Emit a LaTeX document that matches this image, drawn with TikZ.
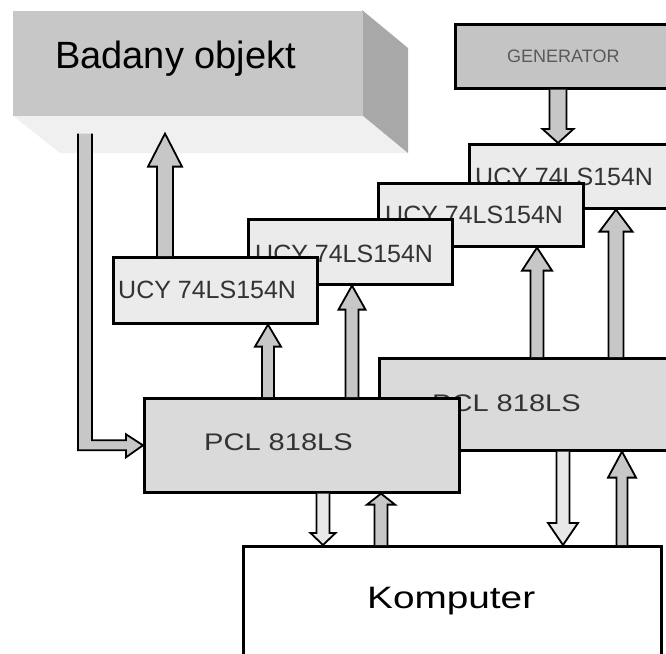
\documentclass[tikz,border=0pt]{standalone}
\usepackage{fontspec}
\setmainfont{Liberation Sans}
\usetikzlibrary{calc}
\definecolor{upgray}{gray}{0.78}
\definecolor{downgray}{gray}{0.91}
\definecolor{ucygray}{gray}{0.92}
\definecolor{pclgray}{gray}{0.855}
\definecolor{gengray}{gray}{0.77}
\definecolor{frontgray}{gray}{0.78}
\definecolor{sidegray}{gray}{0.66}
\definecolor{footgray}{gray}{0.94}
\definecolor{txtgray}{gray}{0.2}
\tikzset{
  box/.style    ={draw,line width=2.6pt,inner sep=0pt,anchor=north west},
  ucybox/.style ={box,fill=ucygray},
  pclbox/.style ={box,fill=pclgray},
  lbl/.style    ={anchor=base west,inner sep=0pt,text=txtgray},
  ucytxt/.style ={lbl,font=\fontsize{25}{28}\selectfont},
  pcltxt/.style ={lbl,font=\fontsize{24}{28}\selectfont},
  fat/.style    ={line width=1.8pt,line join=miter},
}
% vertical block arrow: fill, from, to, half shaft, half head, head length
\newcommand{\blockarrow}[6]{%
  \filldraw[fat,fill=#1] let \p1=(#2),\p2=(#3),\n1={ifthenelse(\y2>\y1,1,-1)} in
    (\x1-#4pt,\y1) -- (\x1-#4pt,\y2-\n1*#6pt) -- (\x1-#5pt,\y2-\n1*#6pt) -- (\x1,\y2)
    -- (\x1+#5pt,\y2-\n1*#6pt) -- (\x1+#4pt,\y2-\n1*#6pt) -- (\x1+#4pt,\y1);}

\begin{document}
\begin{tikzpicture}[x=1pt,y=-1pt]
  \useasboundingbox (0,0) rectangle (666,653);

  % badany objekt, drawn as a block
  \fill[footgray] (12,115) -- (362,115) -- (408,153) -- (60,153) -- cycle;
  \fill[sidegray] (362,10) -- (408,48) -- (408,153) -- (362,115) -- cycle;
  \node[box,draw=none,fill=frontgray,minimum width=350pt,minimum height=105pt] (bad) at (12,10) {};
  \node[lbl,text=black,font=\fontsize{38}{42}\selectfont] (badtxt) at (55,68) {Badany objekt};
  \coordinate (badfoot) at ([yshift=-16pt]bad.south);

  % generator
  \node[box,fill=gengray,minimum width=240pt,minimum height=64pt] (gen) at (454,23) {};
  \node[lbl,text=gray!70!black,font=\fontsize{18}{20}\selectfont] (gentxt) at (507,62) {GENERATOR};

  % ucy cards, back to front
  \node[ucybox,minimum width=230pt,minimum height=64pt] (ucyD) at (468,143) {};
  \node[ucytxt] (ucyDtxt) at (475,185) {UCY 74LS154N};
  \node[ucybox,minimum width=205pt,minimum height=63pt] (ucyC) at (377,182) {};
  \node[ucytxt] (ucyCtxt) at (385,223) {UCY 74LS154N};
  \node[ucybox,minimum width=204pt,minimum height=65pt] (ucyB) at (247,218) {};
  \node[ucytxt] (ucyBtxt) at (255,262) {UCY 74LS154N};
  \node[ucybox,minimum width=204pt,minimum height=66pt] (ucyA) at (112,256) {};
  \node[ucytxt] (ucyAtxt) at (118,298) {UCY 74LS154N};

  % pcl cards
  \node[pclbox,minimum width=320pt,minimum height=92pt] (pclB) at (378,357) {};
  \node[pcltxt] (pclBtxt) at (432,411) {\scalebox{1.21}[1]{PCL 818LS}};
  \node[pclbox,minimum width=315pt,minimum height=94pt] (pclA) at (143,397) {};
  \node[pcltxt] (pclAtxt) at (204,450) {\scalebox{1.21}[1]{PCL 818LS}};

  % komputer
  \node[box,fill=white,minimum width=418pt,minimum height=140pt] (komp) at (242,545) {};
  \node[lbl,text=black,font=\fontsize{31}{34}\selectfont] (komptxt) at (367,608) {\scalebox{1.25}[1]{Komputer}};

  % block arrows
  \filldraw[fat,fill=upgray] let \p1=(85,0 |- badfoot),\p2=(pclA.west) in
    (\x1-7pt,\y1) -- (\x1-7pt,\y2-5pt) -- (\x2-17pt,\y2-5pt) -- (\x2-17pt,\y2-12pt) -- (\x2,\y2)
    -- (\x2-17pt,\y2+11pt) -- (\x2-17pt,\y2+5pt) -- (\x1+7pt,\y2+5pt) -- (\x1+7pt,\y1);
  \blockarrow{upgray}{165,0 |- ucyA.north}{165,0 |- badfoot}{8}{17}{33}
  \blockarrow{upgray}{558,0 |- gen.south}{558,0 |- ucyD.north}{8.5}{15.5}{14}
  \blockarrow{upgray}{268,0 |- pclA.north}{268,0 |- ucyA.south}{6}{13}{22}
  \blockarrow{upgray}{352,0 |- pclA.north}{352,0 |- ucyB.south}{6.5}{13.5}{24}
  \blockarrow{upgray}{537,0 |- pclB.north}{537,0 |- ucyC.south}{6.5}{15}{23}
  \blockarrow{upgray}{616,0 |- pclB.north}{616,0 |- ucyD.south}{7.5}{16.5}{22}
  \blockarrow{downgray}{323,0 |- pclA.south}{323,0 |- komp.north}{6.5}{12.5}{12}
  \blockarrow{upgray}{381,0 |- komp.north}{381,0 |- pclA.south}{6.5}{14}{11}
  \blockarrow{downgray}{563,0 |- pclB.south}{563,0 |- komp.north}{6.5}{15}{22}
  \blockarrow{upgray}{622,0 |- komp.north}{622,0 |- pclB.south}{5.5}{14}{26}
\end{tikzpicture}
\end{document}
